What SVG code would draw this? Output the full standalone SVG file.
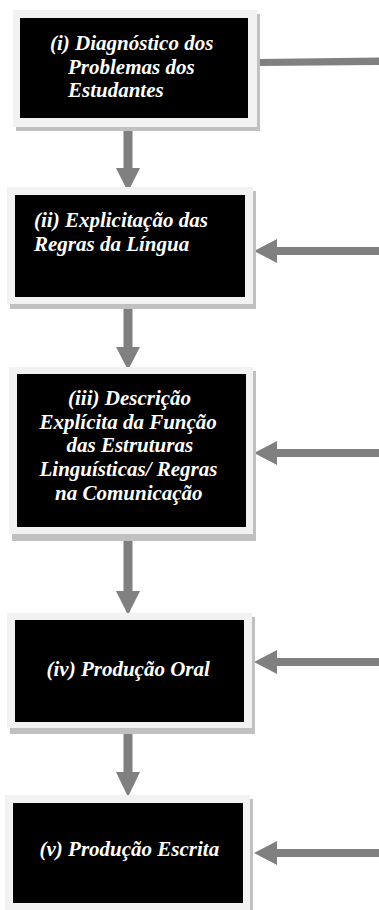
<svg xmlns="http://www.w3.org/2000/svg" width="379" height="910" viewBox="0 0 379 910">
<style>
.sh{fill:#c0c0c0}
.fr{fill:#f2f2f2}
.bk{fill:#000}
.t{font-family:"Liberation Serif","Times New Roman",serif;font-weight:bold;font-style:italic;font-size:21px;fill:#fff}
.ar{fill:#808080}
</style>
<rect width="379" height="910" fill="#fff"/>
<g id="connectors">
  <polygon class="ar" points="259,59 379,57.5 379,65 259,66"/>
  <polygon class="ar" points="123.5,130 132.5,130 132.5,168 140,168 128,192 116,168 123.5,168"/>
  <polygon class="ar" points="123.5,307 132.5,307 132.5,347 140,347 128,370 116,347 123.5,347"/>
  <polygon class="ar" points="123.5,540 132.5,540 132.5,591 140,591 128,615 116,591 123.5,591"/>
  <polygon class="ar" points="123.5,733 132.5,733 132.5,772 140,772 128,797 116,772 123.5,772"/>
  <polygon class="ar" points="379,247 277,247 277,239 254,251 277,263 277,255 379,255"/>
  <polygon class="ar" points="379,449 277,449 277,441 254,453 277,465 277,457 379,457"/>
  <polygon class="ar" points="379,658 277,658 277,650 254,662 277,674 277,666 379,666"/>
  <polygon class="ar" points="379,849 277,849 277,841 254,853 277,865 277,857 379,857"/>
</g>
<g id="node1">
  <rect class="sh" x="16" y="14" width="244" height="117"/>
  <rect class="fr" x="13" y="10" width="244" height="117"/>
  <rect class="bk" x="20" y="18" width="228" height="100"/>
  <text class="t" x="50" y="50">(i) Diagnóstico dos</text>
  <text class="t" x="68" y="74">Problemas dos</text>
  <text class="t" x="68" y="97">Estudantes</text>
</g>
<g id="node2">
  <rect class="sh" x="10" y="191" width="246" height="118"/>
  <rect class="fr" x="7" y="187" width="246" height="117"/>
  <rect class="bk" x="15" y="195" width="230" height="102"/>
  <text class="t" x="34" y="226.5">(ii) Explicitação das</text>
  <text class="t" x="34" y="250.5">Regras da Língua</text>
</g>
<g id="node3">
  <rect class="sh" x="12" y="371" width="244" height="170"/>
  <rect class="fr" x="9" y="367" width="244" height="167"/>
  <rect class="bk" x="17" y="374" width="229" height="153"/>
  <text class="t" x="68" y="405">(iii) Descrição</text>
  <text class="t" x="39.5" y="428.5">Explícita da Função</text>
  <text class="t" x="66.5" y="452">das Estruturas</text>
  <text class="t" x="39.5" y="476">Linguísticas/ Regras</text>
  <text class="t" x="55" y="500">na Comunicação</text>
</g>
<g id="node4">
  <rect class="sh" x="10" y="617" width="245" height="117"/>
  <rect class="fr" x="7" y="613" width="245" height="115"/>
  <rect class="bk" x="15" y="620" width="229" height="102"/>
  <text class="t" x="46.5" y="676">(iv) Produção Oral</text>
</g>
<g id="node5">
  <rect class="sh" x="8" y="799" width="245" height="115"/>
  <rect class="fr" x="5" y="795" width="245" height="115"/>
  <rect class="bk" x="13" y="803" width="230" height="100"/>
  <text class="t" x="39.5" y="856">(v) Produção Escrita</text>
</g>
</svg>
